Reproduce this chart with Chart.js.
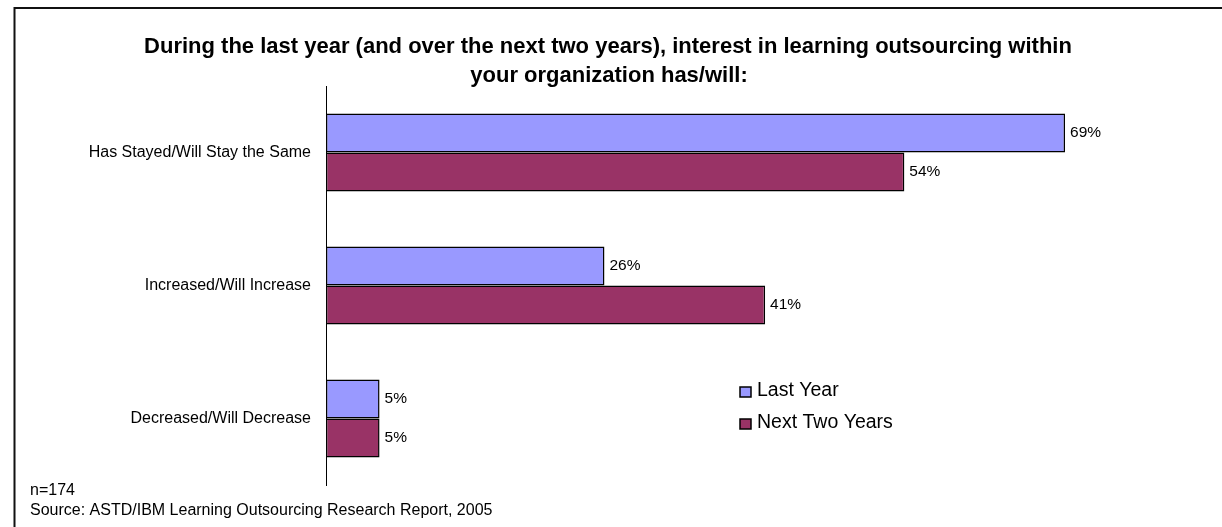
<!DOCTYPE html>
<html>
<head>
<meta charset="utf-8">
<title>Learning outsourcing interest</title>
<script src="https://cdn.jsdelivr.net/npm/chart.js@4"></script>
<style>
    html, body { margin: 0; padding: 0; background: #fff; }
    #wrap { position: relative; width: 1222px; height: 527px; }
</style>
</head>
<body>
<div id="wrap"><canvas id="chart"></canvas></div>
<script>
// Survey answers, one row per answer, one array per time frame
const categories = ['Has Stayed/Will Stay the Same', 'Increased/Will Increase', 'Decreased/Will Decrease'];
const seriesNames = ['Last Year', 'Next Two Years'];
const lastYear = [69, 26, 5];
const nextTwoYears = [54, 41, 5];
const seriesColors = ['#9999FF', '#993366'];
const titleLines = [
    'During the last year (and over the next two years), interest in learning outsourcing within',
    'your organization has/will:'
];
const notes = ['n=174', 'Source: ASTD/IBM Learning Outsourcing Research Report, 2005'];

const FONT = "'Liberation Sans', Arial, Helvetica, sans-serif";

document.addEventListener('DOMContentLoaded', function() {
    // Frame, title, value labels, legend and footnotes drawn on top of the bars
    const decor = {
        id: 'decor',
        afterDraw(chart) {
            const ctx = chart.ctx;
            ctx.save();

            // open frame: left and top edges only
            ctx.strokeStyle = '#111';
            ctx.lineWidth = 2;
            ctx.beginPath();
            ctx.moveTo(14.5, 530);
            ctx.lineTo(14.5, 8);
            ctx.lineTo(1230, 8);
            ctx.stroke();

            // title
            ctx.fillStyle = '#000';
            ctx.textAlign = 'center';
            ctx.textBaseline = 'middle';
            ctx.font = 'bold 22px ' + FONT;
            ctx.fillText(titleLines[0], 608, 47);
            ctx.fillText(titleLines[1], 609, 76);

            // value labels at the end of each bar
            ctx.textAlign = 'left';
            ctx.font = '15.5px ' + FONT;
            chart.data.datasets.forEach((ds, i) => {
                chart.getDatasetMeta(i).data.forEach((bar, j) => {
                    ctx.fillText(ds.data[j] + '%', bar.x + 5, bar.y);
                });
            });

            // legend
            ctx.font = '19.5px ' + FONT;
            seriesNames.forEach((name, i) => {
                const y = 392 + i * 32;
                ctx.fillStyle = seriesColors[i];
                ctx.fillRect(740, y - 5, 11, 10);
                ctx.strokeStyle = '#000';
                ctx.lineWidth = 1.5;
                ctx.strokeRect(740, y - 5, 11, 10);
                ctx.fillStyle = '#000';
                ctx.fillText(name, 757, y - 1);
            });

            // footnotes
            ctx.font = '16px ' + FONT;
            ctx.fillText(notes[0], 30, 491);
            ctx.fillText(notes[1], 30, 511);

            ctx.restore();
        }
    };

    const ctx = document.getElementById('chart').getContext('2d');
    new Chart(ctx, {
        type: 'bar',
        data: {
            labels: categories,
            datasets: [
                { label: seriesNames[0], data: lastYear },
                { label: seriesNames[1], data: nextTwoYears }
            ].map((ds, i) => Object.assign(ds, {
                backgroundColor: seriesColors[i],
                borderColor: '#000',
                borderWidth: 1.5,
                borderSkipped: false,
                categoryPercentage: 0.586,
                barPercentage: 1
            }))
        },
        options: {
            indexAxis: 'y',
            responsive: true,
            maintainAspectRatio: false,
            animation: false,
            layout: {
                padding: { top: 86, bottom: 42, left: 0, right: 127 }
            },
            scales: {
                x: {
                    display: false,
                    min: 0,
                    max: 71.8
                },
                y: {
                    afterFit(scale) { scale.width = 326; },
                    grid: { display: false, drawTicks: false },
                    border: { display: true, color: '#000', width: 1 },
                    ticks: {
                        color: '#000',
                        padding: 15,
                        font: { family: FONT, size: 16 }
                    }
                }
            },
            plugins: {
                legend: { display: false },
                tooltip: { enabled: false }
            }
        },
        plugins: [decor]
    });
});
</script>
</body>
</html>
